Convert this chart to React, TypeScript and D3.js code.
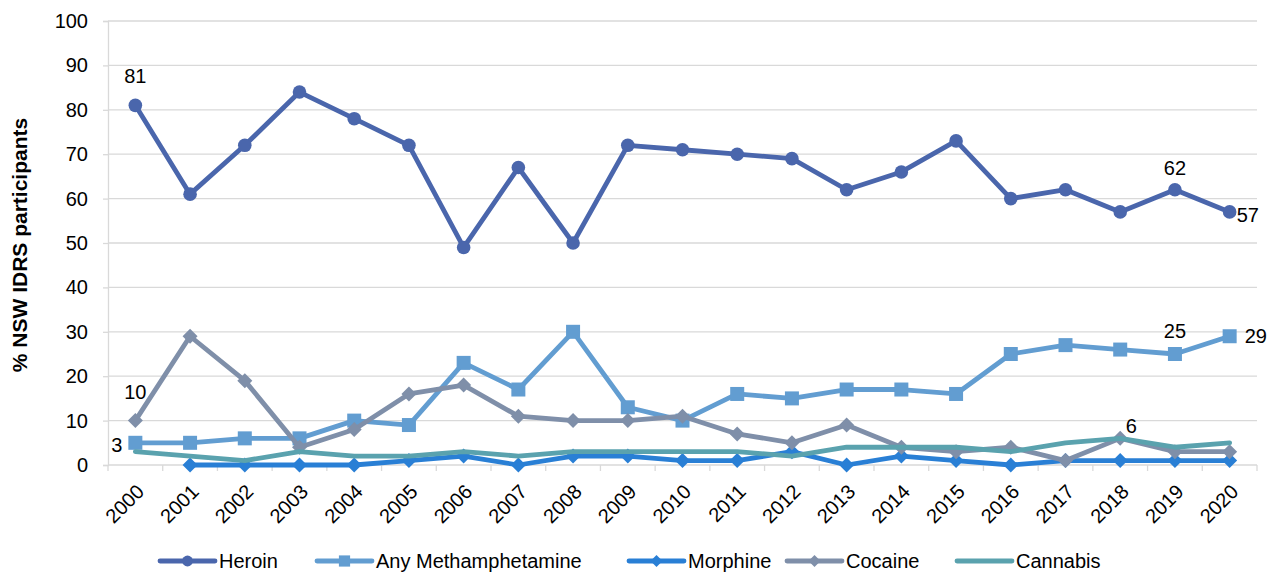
import { useEffect, useRef } from "react"
import * as d3 from "d3"

const years = ["2000","2001","2002","2003","2004","2005","2006","2007","2008","2009","2010","2011","2012","2013","2014","2015","2016","2017","2018","2019","2020"]
const heroin = [81,61,72,84,78,72,49,67,50,72,71,70,69,62,66,73,60,62,57,62,57]
const meth = [5,5,6,6,10,9,23,17,30,13,10,16,15,17,17,16,25,27,26,25,29]
const morphine: (number | null)[] = [null,0,0,0,0,1,2,0,2,2,1,1,3,0,2,1,0,1,1,1,1]
const cocaine = [10,29,19,4,8,16,18,11,10,10,11,7,5,9,4,3,4,1,6,3,3]
const cannabis = [3,2,1,3,2,2,3,2,3,3,3,3,2,4,4,4,3,5,6,4,5]
const yTicks = [0,10,20,30,40,50,60,70,80,90,100]

const series = [
  { name: "Heroin", values: heroin, color: "#4A66AC", marker: "circle" },
  { name: "Any Methamphetamine", values: meth, color: "#629DD1", marker: "square" },
  { name: "Morphine", values: morphine, color: "#297FD5", marker: "diamond" },
  { name: "Cocaine", values: cocaine, color: "#7F8FA9", marker: "diamond" },
  { name: "Cannabis", values: cannabis, color: "#5AA2AE", marker: "none" },
]

// data labels: series index, year index, offset from the point
const labels = [
  { s: 0, i: 0, dx: 0, dy: -22, anchor: "middle" },
  { s: 0, i: 19, dx: 0, dy: -15, anchor: "middle" },
  { s: 0, i: 20, dx: 7, dy: 10, anchor: "start" },
  { s: 1, i: 19, dx: 0, dy: -16, anchor: "middle" },
  { s: 1, i: 20, dx: 15, dy: 7, anchor: "start" },
  { s: 3, i: 0, dx: 0, dy: -22, anchor: "middle" },
  { s: 3, i: 18, dx: 11, dy: -5, anchor: "middle" },
  { s: 4, i: 0, dx: -13, dy: 0, anchor: "end" },
]

const legendPos = [160, 317, 629, 787, 957]

const FONT = "Liberation Sans, Arial, sans-serif"

export default function App() {
  const svgRef = useRef<SVGSVGElement>(null)

  useEffect(() => {
    if (!svgRef.current) return
    const svg = d3.select(svgRef.current)
    svg.selectAll("*").remove()

    const width = 1279
    const height = 573
    const margin = { top: 21, right: 22, bottom: 108, left: 108 }
    const innerW = width - margin.left - margin.right
    const innerH = height - margin.top - margin.bottom

    const x = d3.scaleBand().domain(years).range([0, innerW])
    const y = d3.scaleLinear().domain([0, 100]).range([innerH, 0])
    const cx = (i: number) => (x(years[i]) as number) + x.bandwidth() / 2

    const g = svg.append("g").attr("transform", `translate(${margin.left},${margin.top})`)

    // gridlines
    g.selectAll(".grid").data(yTicks.filter(t => t > 0)).join("line")
      .attr("x1", 0).attr("x2", innerW)
      .attr("y1", d => y(d)).attr("y2", d => y(d))
      .attr("stroke", "#d9d9d9").attr("stroke-width", 1.3)

    // y axis
    const yAxis = g.append("g").call(d3.axisLeft(y).tickValues(yTicks).tickSize(5).tickPadding(15))
    yAxis.select(".domain").attr("stroke", "#d9d9d9").attr("stroke-width", 1.3)
    yAxis.selectAll(".tick line").attr("stroke", "#d9d9d9").attr("stroke-width", 1.3)
    yAxis.selectAll("text").style("font-family", FONT).style("font-size", "20px").attr("fill", "#000")

    // x axis
    const xAxisG = g.append("g").attr("transform", `translate(0,${innerH})`)
    xAxisG.append("line").attr("x1", 0).attr("x2", innerW).attr("stroke", "#d9d9d9").attr("stroke-width", 1.3)
    xAxisG.selectAll(".xt").data(d3.range(years.length + 1)).join("line")
      .attr("x1", d => d * x.step()).attr("x2", d => d * x.step())
      .attr("y1", 0).attr("y2", 6)
      .attr("stroke", "#d9d9d9").attr("stroke-width", 1.3)
    xAxisG.selectAll(".xl").data(years).join("text")
      .attr("transform", (d, i) => `translate(${cx(i) + 5},${23}) rotate(-45)`)
      .attr("text-anchor", "end")
      .attr("dy", "0.35em")
      .style("font-family", FONT).style("font-size", "20px")
      .text(d => d)

    // y title
    svg.append("text")
      .attr("transform", `translate(27,${245}) rotate(-90)`)
      .attr("text-anchor", "middle")
      .style("font-family", FONT).style("font-size", "21px").style("font-weight", "bold")
      .text("% NSW IDRS participants")

    const drawMarker = (sel: any, type: string, color: string, px: number, py: number, scale = 1) => {
      if (type === "circle") {
        sel.append("circle").attr("cx", px).attr("cy", py).attr("r", 6.8 * scale).attr("fill", color)
      } else if (type === "square") {
        const s = 14 * scale
        sel.append("rect").attr("x", px - s / 2).attr("y", py - s / 2).attr("width", s).attr("height", s).attr("fill", color)
      } else if (type === "diamond") {
        const s = 7.5 * scale
        sel.append("path").attr("d", `M${px},${py - s}L${px + s},${py}L${px},${py + s}L${px - s},${py}Z`).attr("fill", color)
      }
    }

    series.forEach(s => {
      const line = d3.line<number | null>()
        .defined(d => d !== null)
        .x((_, i) => cx(i))
        .y(d => y(d as number))
      g.append("path")
        .datum(s.values as (number | null)[])
        .attr("d", line)
        .attr("fill", "none")
        .attr("stroke", s.color)
        .attr("stroke-width", 4.8)
        .attr("stroke-linejoin", "round")
        .attr("stroke-linecap", "round")
      const mg = g.append("g")
      ;(s.values as (number | null)[]).forEach((v, i) => {
        if (v === null) return
        drawMarker(mg, s.marker, s.color, cx(i), y(v))
      })
    })

    // data labels
    labels.forEach(l => {
      const v = (series[l.s].values as (number | null)[])[l.i] as number
      g.append("text")
        .attr("x", cx(l.i) + l.dx).attr("y", y(v) + l.dy)
        .attr("text-anchor", l.anchor)
        .style("font-family", FONT).style("font-size", "20px")
        .text(String(v))
    })

    // legend
    const ly = 561
    series.forEach((s, k) => {
      const lx = legendPos[k]
      const lg = svg.append("g")
      lg.append("line").attr("x1", lx).attr("x2", lx + 55).attr("y1", ly).attr("y2", ly)
        .attr("stroke", s.color).attr("stroke-width", 4.8).attr("stroke-linecap", "round")
      drawMarker(lg, s.marker, s.color, lx + 27.5, ly, 0.8)
      lg.append("text").attr("x", lx + 59).attr("y", ly + 7)
        .style("font-family", FONT).style("font-size", "20px")
        .text(s.name)
    })
  }, [])

  return (
    <svg ref={svgRef} width={1279} height={573} style={{ position: "absolute", left: 0, top: 0 }} />
  )
}
